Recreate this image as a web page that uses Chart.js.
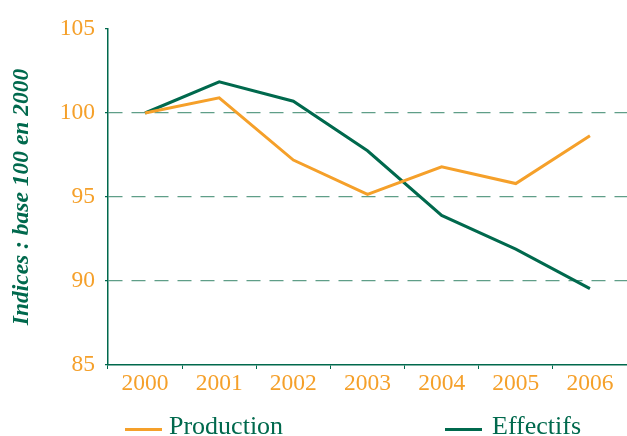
<!DOCTYPE html>
<html>
<head>
<meta charset="utf-8">
<script src="https://cdn.jsdelivr.net/npm/chart.js@4/dist/chart.umd.min.js"></script>
<style>
  html, body { margin: 0; padding: 0; background: #fff; }
  #wrap { position: relative; width: 627px; height: 436px; }
  .leg { position: absolute; font-family: "Liberation Serif", "Times New Roman", serif; font-size: 26px; color: #00694d; line-height: 1; }
  .leg-line { position: absolute; height: 3px; width: 37px; }
</style>
</head>
<body>
<div id="wrap">
  <canvas id="chart" width="627" height="436"></canvas>
  <div class="leg-line" style="left:125px; top:428px; background:#f5a02a"></div>
  <div class="leg" style="left:169px; top:413px">Production</div>
  <div class="leg-line" style="left:445px; top:428px; background:#00694d"></div>
  <div class="leg" style="left:492px; top:413px">Effectifs</div>
</div>
<script>
const years = ['2000', '2001', '2002', '2003', '2004', '2005', '2006'];
const production = [100, 100.9, 97.2, 95.15, 96.8, 95.8, 98.65];
const effectifs = [100, 101.85, 100.7, 97.75, 93.9, 91.9, 89.55];
const yTicks = [85, 90, 95, 100, 105];

const green = '#00694d';
const orange = '#f5a02a';
const serif = '"Liberation Serif", "Times New Roman", serif';

new Chart(document.getElementById('chart'), {
    type: 'line',
    data: {
        labels: years,
        datasets: [
            { label: 'Production', data: production, borderColor: orange, borderWidth: 3, pointRadius: 0, tension: 0 },
            { label: 'Effectifs', data: effectifs, borderColor: green, borderWidth: 3, pointRadius: 0, tension: 0 },
        ],
    },
    options: {
        responsive: false,
        animation: false,
        layout: { padding: { top: 29, left: 0, right: 0, bottom: 0 } },
        plugins: { legend: { display: false }, tooltip: { enabled: false } },
        scales: {
            x: {
                offset: true,
                grid: { drawOnChartArea: false, offset: true, tickLength: 4, tickColor: green, tickWidth: 1 },
                border: { color: green, width: 1.5 },
                ticks: { color: orange, font: { family: serif, size: 23.5 }, padding: 1, maxRotation: 0 },
                afterFit: s => { s.height = 71; },
            },
            y: {
                min: 85,
                max: 105,
                afterBuildTicks: s => { s.ticks = yTicks.map(v => ({ value: v })); },
                grid: {
                    color: c => (c.tick && (c.tick.value === 90 || c.tick.value === 95 || c.tick.value === 100)) ? '#5f9e88' : 'rgba(0,0,0,0)',
                    lineWidth: 1.3,
                    tickColor: green,
                    tickLength: 3,
                },
                border: { color: green, width: 1.5, dash: [14, 9] },
                ticks: { color: orange, font: { family: serif, size: 23.5 }, padding: 10 },
                title: {
                    display: true,
                    text: 'Indices : base 100 en 2000',
                    color: green,
                    font: { family: serif, size: 23.5, weight: 'bold', style: 'italic', lineHeight: 1.2 },
                    padding: { top: 8, bottom: 0 },
                },
                afterFit: s => { s.width = 108; },
            },
        },
    },
});
</script>
</body>
</html>
